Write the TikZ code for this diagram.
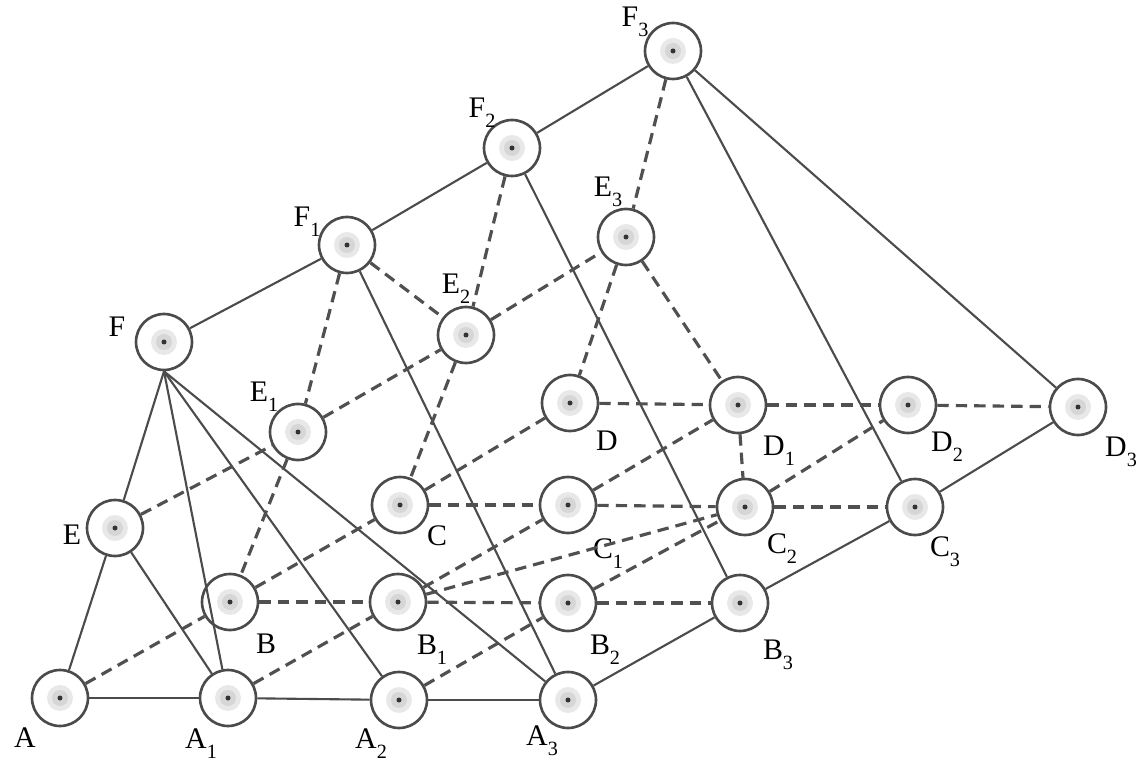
\documentclass[tikz,border=0pt]{standalone}
\usepackage{fontspec}
\setmainfont{Liberation Serif}
\definecolor{lc}{RGB}{75,75,75}
\definecolor{dc}{RGB}{80,80,80}
\newcommand\sbs[1]{\rlap{\raisebox{-5.5pt}{\fontsize{11.5}{11.5}\selectfont #1}}}
\tikzset{
  nd/.style={circle, draw=lc, line width=1.5pt, minimum size=1.12cm, inner sep=0pt,
    path picture={
      \fill[gray!18] (path picture bounding box.center) circle (0.26cm);
      \fill[gray!32] (path picture bounding box.center) circle (0.16cm);
      \fill[black!80] (path picture bounding box.center) circle (0.05cm);}},
  sl/.style={draw=lc, line width=1.2pt},
  dl/.style={draw=dc, line width=1.8pt, dash pattern=on 6.5pt off 4pt},
  lbl/.style={anchor=base, inner sep=0pt, font=\fontsize{17}{17}\selectfont}
}
\begin{document}
\begin{tikzpicture}[x=0.02cm,y=-0.02cm]
\useasboundingbox (0,0) rectangle (1139,763);
% nodes
\node[nd] (A)  at (60,698) {};
\node[nd] (A1) at (228,698) {};
\node[nd] (A2) at (399,700) {};
\node[nd] (A3) at (568,700) {};
\node[nd] (B)  at (230,602) {};
\node[nd] (B1) at (398,602) {};
\node[nd] (B2) at (568,603) {};
\node[nd] (B3) at (740,603) {};
\node[nd] (C)  at (400,505) {};
\node[nd] (C1) at (568,505) {};
\node[nd] (C2) at (745,507) {};
\node[nd] (C3) at (915,507) {};
\node[nd] (D)  at (570,403) {};
\node[nd] (D1) at (738,405) {};
\node[nd] (D2) at (908,405) {};
\node[nd] (D3) at (1078,407) {};
\node[nd] (E)  at (115,528) {};
\node[nd] (E1) at (298,432) {};
\node[nd] (E2) at (466,335) {};
\node[nd] (E3) at (626,237) {};
\node[nd] (F)  at (164,342) {};
\node[nd] (F1) at (347,245) {};
\node[nd] (F2) at (512,148) {};
\node[nd] (F3) at (673,51) {};
% labels
\node[lbl] (lA)  at (25,747.5) {A};
\node[lbl] (lA1) at (196,748.5) {A\sbs{1}};
\node[lbl] (lA2) at (366,748.5) {A\sbs{2}};
\node[lbl] (lA3) at (537,745.5) {A\sbs{3}};
\node[lbl] (lB)  at (266,653.5) {B};
\node[lbl] (lB1) at (427,654.5) {B\sbs{1}};
\node[lbl] (lB2) at (600,654.5) {B\sbs{2}};
\node[lbl] (lB3) at (773,659.5) {B\sbs{3}};
\node[lbl] (lC)  at (437,545.5) {C};
\node[lbl] (lC1) at (603,558.5) {C\sbs{1}};
\node[lbl] (lC2) at (777,553.5) {C\sbs{2}};
\node[lbl] (lC3) at (940,556.5) {C\sbs{3}};
\node[lbl] (lD)  at (607,450.5) {D};
\node[lbl] (lD1) at (774,455.5) {D\sbs{1}};
\node[lbl] (lD2) at (942,451.5) {D\sbs{2}};
\node[lbl] (lD3) at (1116,456.5) {D\sbs{3}};
\node[lbl] (lE)  at (72,544.5) {E};
\node[lbl] (lE1) at (259,401.5) {E\sbs{1}};
\node[lbl] (lE2) at (451,293.5) {E\sbs{2}};
\node[lbl] (lE3) at (603,196.5) {E\sbs{3}};
\node[lbl] (lF)  at (117,336.5) {F};
\node[lbl] (lF1) at (302,226.5) {F\sbs{1}};
\node[lbl] (lF2) at (477,117.5) {F\sbs{2}};
\node[lbl] (lF3) at (630,26.5) {F\sbs{3}};
% solid connectors
\draw[sl] (A) -- (A1);
\draw[sl] (A1) -- (A2);
\draw[sl] (A2) -- (A3);
\draw[sl] (A3) -- (B3);
\draw[sl] (B3) -- (C3);
\draw[sl] (C3) -- (D3);
\draw[sl] (D3) -- (F3);
\draw[sl] (F3) -- (F2);
\draw[sl] (F2) -- (F1);
\draw[sl] (F1) -- (F);
\draw[sl] (F.south) -- (E);
\draw[sl] (F.south) -- (A1);
\draw[sl] (F.south) -- (A2);
\draw[sl] (F.south) -- (A3);
\draw[sl] (E) -- (A);
\draw[sl] (E) -- (A1);
\draw[sl] (F1) -- (A3);
\draw[sl] (F2) -- (B3);
\draw[sl] (F3) -- (C3);
% dashed connectors
\draw[dl] (A) -- (B);
\draw[dl] (B) -- (C);
\draw[dl] (C) -- (D);
\draw[dl] (A1) -- (B1);
\draw[dl] (B1) -- (C1);
\draw[dl] (C1) -- (D1);
\draw[dl] (A2) -- (B2);
\draw[dl] (B2) -- (C2);
\draw[dl] (C2) -- (D2);
\draw[dl] (B) -- (B1);
\draw[dl] (B1) -- (B2);
\draw[dl] (B2) -- (B3);
\draw[dl] (C) -- (C1);
\draw[dl] (C1) -- (C2);
\draw[dl] (C2) -- (C3);
\draw[dl] (D) -- (D1);
\draw[dl] (D1) -- (D2);
\draw[dl] (D2) -- (D3);
\draw[dl] (E) -- (E1);
\draw[dl] (E1) -- (E2);
\draw[dl] (E2) -- (E3);
\draw[dl] (F1) -- (E1);
\draw[dl] (E1) -- (B);
\draw[dl] (F2) -- (E2);
\draw[dl] (E2) -- (C);
\draw[dl] (F3) -- (E3);
\draw[dl] (E3) -- (D);
\draw[dl] (F1) -- (E2);
\draw[dl] (E3) -- (D1);
\draw[dl] (D1) -- (C2);
\draw[dl] (B1) -- (C2);
\end{tikzpicture}
\end{document}
